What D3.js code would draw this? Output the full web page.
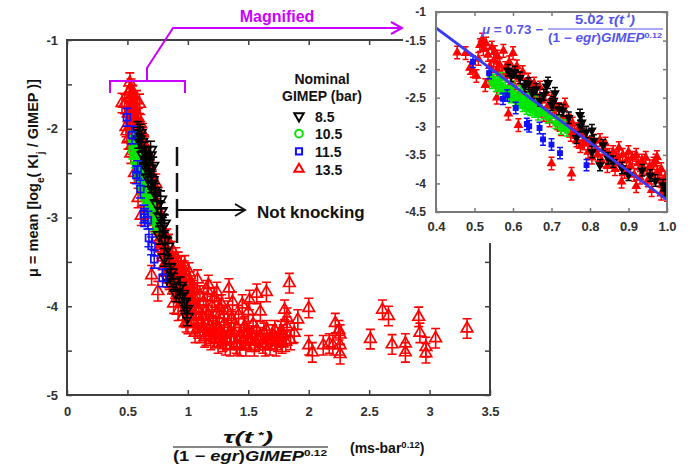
<!DOCTYPE html>
<html>
<head>
<meta charset="utf-8">
<script src="https://cdn.jsdelivr.net/npm/d3@7"></script>
<style>
  body { margin: 0; background: #fff; }
  svg { display: block; }
  text { font-family: "Liberation Sans", Arial, sans-serif; }
</style>
</head>
<body>
<svg id="chart" width="698" height="468"></svg>
<script>
// Mean knock intensity vs. normalised ignition-delay integral, by nominal GIMEP (bar)
// Each point: [tau / ((1-egr) GIMEP^0.12), mu]
const gimep85 = [
  [0.587,-2.02],[0.595,-2.12],[0.605,-2.05],[0.618,-2.15],[0.63,-2.30],[0.64,-2.25],[0.65,-2.42],
  [0.66,-2.35],[0.67,-2.55],[0.68,-2.45],[0.687,-2.30],[0.691,-2.24],[0.70,-2.62],[0.704,-2.58],
  [0.709,-2.42],[0.72,-2.70],[0.73,-2.72],[0.745,-2.85],[0.765,-3.20],[0.774,-2.80],[0.779,-2.93],
  [0.775,-3.00],[0.79,-3.10],[0.805,-3.07],[0.805,-3.45],[0.81,-3.25],[0.826,-3.68],[0.834,-3.33],
  [0.847,-3.56],[0.86,-3.62],[0.883,-3.73],[0.90,-3.85],[0.935,-3.77],[0.956,-3.86],[0.97,-3.95],
  [0.99,-4.03],[0.995,-4.12]
];
const gimep105 = [
  [0.54,-2.12],[0.545,-2.25],[0.55,-2.18],[0.555,-2.30],[0.56,-2.22],[0.565,-2.35],[0.57,-2.28],
  [0.57,-2.15],[0.575,-2.40],[0.58,-2.32],[0.585,-2.45],[0.59,-2.38],[0.595,-2.50],[0.60,-2.42],
  [0.60,-2.30],[0.605,-2.55],[0.61,-2.48],[0.615,-2.60],[0.62,-2.50],[0.62,-2.38],[0.625,-2.65],
  [0.63,-2.55],[0.635,-2.70],[0.64,-2.58],[0.64,-2.45],[0.645,-2.72],[0.65,-2.62],[0.655,-2.75],
  [0.66,-2.68],[0.66,-2.55],[0.665,-2.80],[0.67,-2.72],[0.68,-2.78],[0.69,-2.85],[0.70,-2.82],
  [0.71,-2.95],[0.72,-2.90],[0.725,-3.05],[0.735,-2.98],[0.74,-3.08]
];
const gimep115 = [
  [0.496,-1.87],[0.538,-2.07],[0.574,-2.52],[0.585,-2.46],[0.607,-2.68],[0.636,-2.96],
  [0.642,-3.00],[0.669,-3.03],[0.678,-3.23],[0.700,-3.32],[0.722,-3.47],[0.791,-3.68]
];
const gimep135 = [
  [0.455,-1.71],[0.477,-1.72],[0.488,-1.98],[0.496,-2.03],[0.505,-2.12],[0.51,-1.82],[0.514,-1.58],
  [0.52,-1.48],[0.523,-1.65],[0.53,-1.55],[0.535,-1.75],[0.528,-2.28],[0.538,-2.18],[0.54,-1.95],
  [0.545,-1.62],[0.55,-1.85],[0.553,-1.70],[0.558,-2.02],[0.56,-1.78],[0.565,-1.92],[0.558,-2.50],
  [0.57,-2.08],[0.575,-1.68],[0.58,-1.98],[0.585,-2.12],[0.588,-2.78],[0.59,-1.88],[0.595,-2.25],
  [0.60,-1.72],[0.60,-2.05],[0.605,-2.32],[0.61,-1.95],[0.614,-2.98],[0.615,-2.15],[0.62,-2.40],
  [0.625,-2.05],[0.63,-2.28],[0.635,-2.52],[0.64,-2.18],[0.645,-2.38],[0.65,-2.60],[0.655,-2.25],
  [0.66,-2.45],[0.665,-2.70],[0.67,-2.32],[0.675,-2.55],[0.68,-2.80],[0.685,-2.42],[0.69,-2.65],
  [0.695,-2.90],[0.70,-3.65],[0.70,-2.52],[0.705,-2.75],[0.71,-2.62],[0.715,-2.95],[0.72,-2.70],
  [0.725,-3.05],[0.73,-2.85],[0.735,-2.62],[0.74,-3.00],[0.745,-2.90],[0.75,-3.15],[0.752,-3.83],
  [0.755,-2.95],[0.76,-3.10],[0.765,-3.25],[0.77,-3.05],[0.775,-3.35],[0.78,-3.15],[0.785,-3.30],
  [0.79,-3.20],[0.795,-3.45],[0.80,-3.30],[0.805,-3.55],[0.81,-3.25],[0.815,-3.40],[0.82,-3.50],
  [0.826,-3.24],[0.83,-3.60],[0.835,-3.40],[0.84,-3.30],[0.845,-3.70],[0.85,-3.50],[0.855,-3.60],
  [0.86,-3.45],[0.865,-3.75],[0.87,-3.55],[0.875,-3.38],[0.878,-3.65],[0.882,-3.97],[0.885,-3.50],
  [0.89,-3.80],[0.895,-3.60],[0.90,-3.45],[0.905,-3.70],[0.91,-3.55],[0.915,-3.85],[0.92,-3.50],
  [0.92,-4.05],[0.925,-3.65],[0.93,-3.90],[0.935,-3.60],[0.94,-3.75],[0.945,-3.55],[0.95,-3.95],
  [0.955,-3.70],[0.96,-3.85],[0.96,-4.12],[0.965,-3.65],[0.97,-3.60],[0.974,-3.54],[0.975,-3.80],
  [0.98,-3.95],[0.985,-3.75],[0.985,-4.18],[0.99,-4.00],[0.995,-3.90],[0.999,-4.06],[1.00,-4.12],
  [1.00,-4.20],[1.01,-3.62],[1.02,-3.72],[1.02,-3.93],[1.03,-4.10],[1.03,-3.80],[1.04,-3.82],
  [1.05,-4.20],[1.05,-3.90],[1.06,-3.98],[1.06,-4.30],[1.07,-4.02],[1.08,-3.70],[1.08,-4.25],
  [1.09,-4.05],[1.10,-3.88],[1.10,-4.30],[1.11,-4.18],[1.12,-4.12],[1.13,-3.95],[1.13,-4.25],
  [1.14,-4.35],[1.15,-4.05],[1.15,-4.33],[1.16,-3.82],[1.17,-3.76],[1.17,-4.10],[1.18,-4.22],
  [1.19,-4.38],[1.20,-4.00],[1.20,-4.27],[1.21,-4.17],[1.22,-3.90],[1.22,-4.36],[1.23,-4.30],
  [1.24,-3.84],[1.24,-4.22],[1.25,-4.42],[1.26,-4.10],[1.26,-4.02],[1.27,-4.29],[1.28,-3.98],
  [1.28,-4.32],[1.29,-4.40],[1.30,-4.20],[1.30,-4.10],[1.31,-4.44],[1.32,-4.38],[1.33,-4.05],
  [1.33,-4.25],[1.34,-3.80],[1.35,-4.45],[1.36,-4.15],[1.36,-4.37],[1.37,-3.95],[1.38,-4.30],
  [1.39,-4.20],[1.40,-4.42],[1.41,-4.44],[1.42,-4.10],[1.43,-4.45],[1.44,-4.35],[1.45,-3.98],
  [1.46,-4.25],[1.46,-4.38],[1.47,-4.23],[1.48,-4.45],[1.49,-4.30],[1.50,-4.06],[1.50,-4.36],
  [1.51,-3.93],[1.52,-4.40],[1.53,-4.33],[1.54,-4.20],[1.55,-4.45],[1.56,-4.40],[1.57,-3.86],
  [1.57,-4.27],[1.58,-4.38],[1.60,-4.06],[1.60,-4.35],[1.62,-4.42],[1.63,-4.30],[1.64,-4.45],
  [1.65,-3.84],[1.65,-4.27],[1.66,-4.38],[1.68,-4.44],[1.69,-4.38],[1.70,-4.32],[1.72,-4.27],
  [1.73,-4.45],[1.74,-4.40],[1.76,-4.35],[1.77,-4.28],[1.78,-4.42],[1.79,-4.32],[1.80,-4.04],
  [1.81,-4.40],[1.82,-4.23],[1.82,-4.13],[1.84,-3.74],[1.85,-4.38],[1.88,-4.30],[1.91,-4.15],
  [2.00,-4.02],[2.00,-4.44],[2.03,-4.52],[2.12,-4.44],[2.17,-4.42],[2.20,-4.44],[2.22,-4.19],
  [2.25,-4.27],[2.26,-4.32],[2.26,-4.44],[2.26,-4.54],[2.51,-4.37],[2.61,-4.04],[2.66,-4.11],
  [2.69,-4.43],[2.80,-4.42],[2.80,-4.52],[2.91,-4.12],[2.92,-4.30],[2.97,-4.46],[2.97,-4.53],
  [3.05,-4.36],[3.31,-4.25]
];
// half-length of the error bars, per GIMEP level
const errHalf = [0.10, 0.09, 0.10, 0.11];
const gimepLabels = ["8.5", "10.5", "11.5", "13.5"];

// Correlation: mu = 0.73 - 5.02 * x
const fitIntercept = 0.73;
const fitSlope = -5.02;

const mainXTicks = [0, 0.5, 1, 1.5, 2, 2.5, 3, 3.5];
const mainYTicks = [-5, -4.5, -4, -3.5, -3, -2.5, -2, -1.5, -1];
const insetXTicks = [0.4, 0.5, 0.6, 0.7, 0.8, 0.9, 1.0];
const insetYTicks = [-4.5, -4, -3.5, -3, -2.5, -2, -1.5, -1];

const series = [
  { label: gimepLabels[3], pts: gimep135, err: errHalf[3], color: "#ff0000", shape: "up" },
  { label: gimepLabels[1], pts: gimep105, err: errHalf[1], color: "#00e600", shape: "circle" },
  { label: gimepLabels[0], pts: gimep85,  err: errHalf[0], color: "#000000", shape: "down" },
  { label: gimepLabels[2], pts: gimep115, err: errHalf[2], color: "#1010ff", shape: "square" }
];
const legendOrder = [2, 1, 3, 0];

const svg = d3.select("#chart");
const axisColor = "#404040";
const labelColor = "#303030";

function symbolPath(shape, size) {
  const type = shape === "circle" ? d3.symbolCircle
    : shape === "square" ? d3.symbolSquare : d3.symbolTriangle;
  return d3.symbol(type, size)();
}
function symbolTransform(shape, cx, cy) {
  return `translate(${cx},${cy})` + (shape === "down" ? " rotate(180)" : "");
}

function drawSeries(g, xs, ys, s, o) {
  const grp = g.append("g");
  const sz = o.size[s.shape];
  grp.selectAll("path.err").data(s.pts).join("path")
    .attr("class", "err")
    .attr("d", d => {
      const cx = xs(d[0]), t = ys(d[1] + s.err), b = ys(d[1] - s.err);
      return `M${cx},${t}V${b}M${cx - o.cap},${t}H${cx + o.cap}M${cx - o.cap},${b}H${cx + o.cap}`;
    })
    .attr("fill", "none").attr("stroke", s.color).attr("stroke-width", o.lw);
  grp.selectAll("path.mk").data(s.pts).join("path")
    .attr("class", "mk")
    .attr("d", symbolPath(s.shape, sz))
    .attr("transform", d => symbolTransform(s.shape, xs(d[0]), ys(d[1])))
    .attr("fill", o.filled ? s.color : "none")
    .attr("stroke", s.color).attr("stroke-width", o.mlw);
}

function styleAxis(g, color, fontSize) {
  g.select(".domain").remove();
  g.selectAll(".tick line").attr("stroke", color).attr("stroke-width", 1.5);
  g.selectAll(".tick text").attr("fill", labelColor)
    .attr("font-size", fontSize).attr("font-weight", "bold")
    .attr("font-family", "'Liberation Sans', Arial, sans-serif");
}

// ---------- main panel ----------
const mx = d3.scaleLinear([0, 3.5], [67, 490]);
const my = d3.scaleLinear([-5, -1], [395, 40]);

svg.append("defs").append("clipPath").attr("id", "mainClip")
  .append("rect").attr("x", 67).attr("y", 40).attr("width", 423).attr("height", 355);

const mainG = svg.append("g");
mainG.append("g").attr("transform", "translate(0,395)")
  .call(d3.axisBottom(mx).tickValues(mainXTicks).tickFormat(d => String(d))
    .tickSize(-5).tickSizeOuter(0).tickPadding(12))
  .call(g => styleAxis(g, axisColor, 13));
mainG.append("g").attr("transform", "translate(0,40)")
  .call(d3.axisTop(mx).tickValues(mainXTicks).tickFormat("").tickSize(-5).tickSizeOuter(0))
  .call(g => styleAxis(g, axisColor, 13));
mainG.append("g").attr("transform", "translate(67,0)")
  .call(d3.axisLeft(my).tickValues(mainYTicks)
    .tickFormat(d => Number.isInteger(d) ? String(d) : "")
    .tickSize(-5).tickSizeOuter(0).tickPadding(9))
  .call(g => styleAxis(g, axisColor, 13));
mainG.append("g").attr("transform", "translate(490,0)")
  .call(d3.axisRight(my).tickValues(mainYTicks).tickFormat("").tickSize(-5).tickSizeOuter(0))
  .call(g => styleAxis(g, axisColor, 13));
mainG.append("rect").attr("x", 67).attr("y", 40).attr("width", 423).attr("height", 355)
  .attr("fill", "none").attr("stroke", axisColor).attr("stroke-width", 2);

const mainPts = mainG.append("g").attr("clip-path", "url(#mainClip)");
series.forEach(s => drawSeries(mainPts, mx, my, s, {
  cap: 4.5, lw: 1.6, mlw: 1.7, filled: false,
  size: { up: 58, down: 58, circle: 52, square: 46 }
}));

// knock / no-knock boundary
svg.append("line").attr("x1", 177).attr("x2", 177).attr("y1", 147).attr("y2", 243)
  .attr("stroke", "#111").attr("stroke-width", 2.5).attr("stroke-dasharray", "19,7");
svg.append("path").attr("d", "M177,210H244M235,204L245,210L235,216")
  .attr("fill", "none").attr("stroke", "#111").attr("stroke-width", 2);
svg.append("text").attr("x", 257).attr("y", 218).attr("font-size", 17).attr("font-weight", "bold")
  .attr("fill", "#111").text("Not knocking");

// legend
const leg = svg.append("g");
leg.append("text").attr("x", 322).attr("y", 84).attr("text-anchor", "middle")
  .attr("font-size", 14).attr("font-weight", "bold").attr("fill", "#111").text("Nominal");
leg.append("text").attr("x", 322).attr("y", 101).attr("text-anchor", "middle")
  .attr("font-size", 14).attr("font-weight", "bold").attr("fill", "#111").text("GIMEP (bar)");
legendOrder.forEach((si, i) => {
  const s = series[si];
  const cy = 116 + i * 17.7;
  leg.append("path").attr("d", symbolPath(s.shape, s.shape === "circle" ? 46 : 38))
    .attr("transform", symbolTransform(s.shape, 299, cy))
    .attr("fill", "none").attr("stroke", s.color).attr("stroke-width", 2);
  leg.append("text").attr("x", 315).attr("y", cy + 5.5).attr("font-size", 14)
    .attr("font-weight", "bold").attr("fill", "#111").text(s.label);
});

// y-axis title
const yt = svg.append("text").attr("transform", "translate(38,178) rotate(-90)")
  .attr("text-anchor", "middle").attr("font-size", 14.5).attr("font-weight", "bold").attr("fill", "#111");
yt.append("tspan").text("\u03bc = mean [log");
yt.append("tspan").attr("baseline-shift", "sub").attr("font-size", 10).text("e");
yt.append("tspan").text("( KI");
yt.append("tspan").attr("baseline-shift", "sub").attr("font-size", 10).text("j");
yt.append("tspan").text(" / GIMEP )]");

// x-axis title (fraction)
const serif = "'DejaVu Serif', 'Liberation Serif', serif";
const num = svg.append("text").attr("x", 248).attr("y", 443).attr("text-anchor", "middle")
  .attr("font-family", serif).attr("font-size", 16).attr("font-weight", "bold")
  .attr("font-style", "italic").attr("fill", "#111")
  .attr("textLength", 50).attr("lengthAdjust", "spacingAndGlyphs");
num.append("tspan").text("\u03c4(t");
num.append("tspan").attr("baseline-shift", "super").attr("font-size", 9).text(" *");
num.append("tspan").text(")");
svg.append("line").attr("x1", 173).attr("x2", 328).attr("y1", 447).attr("y2", 447)
  .attr("stroke", "#111").attr("stroke-width", 1.2);
const den = svg.append("text").attr("x", 250).attr("y", 461).attr("text-anchor", "middle")
  .attr("font-family", serif).attr("font-size", 14).attr("font-weight", "bold").attr("fill", "#111")
  .attr("textLength", 154).attr("lengthAdjust", "spacingAndGlyphs");
den.append("tspan").text("(1 \u2212 ");
den.append("tspan").attr("font-style", "italic").text("egr");
den.append("tspan").text(")");
den.append("tspan").attr("font-style", "italic").text("GIMEP");
den.append("tspan").attr("baseline-shift", "super").attr("font-size", 9).text("0.12");
const unit = svg.append("text").attr("x", 350).attr("y", 453).attr("font-size", 14)
  .attr("font-weight", "bold").attr("fill", "#111");
unit.append("tspan").text("(ms-bar");
unit.append("tspan").attr("baseline-shift", "super").attr("font-size", 9.5).text("0.12");
unit.append("tspan").text(")");

// ---------- magnified inset ----------
const ix = d3.scaleLinear([0.4, 1.0], [436, 667]);
const iy = d3.scaleLinear([-4.5, -1], [212, 12]);

svg.append("rect").attr("x", 403).attr("y", 0).attr("width", 295).attr("height", 243).attr("fill", "#fff");
svg.select("defs").append("clipPath").attr("id", "insetClip")
  .append("rect").attr("x", 436).attr("y", 12).attr("width", 231).attr("height", 200);

const insetColor = "#7a7a7a";
const inG = svg.append("g");
inG.append("g").attr("transform", "translate(0,212)")
  .call(d3.axisBottom(ix).tickValues(insetXTicks).tickFormat(d => d.toFixed(1))
    .tickSize(-4).tickSizeOuter(0).tickPadding(10))
  .call(g => styleAxis(g, insetColor, 13));
inG.append("g").attr("transform", "translate(0,12)")
  .call(d3.axisTop(ix).tickValues(insetXTicks).tickFormat("").tickSize(-4).tickSizeOuter(0))
  .call(g => styleAxis(g, insetColor, 13));
inG.append("g").attr("transform", "translate(436,0)")
  .call(d3.axisLeft(iy).tickValues(insetYTicks).tickFormat(d => String(d))
    .tickSize(-4).tickSizeOuter(0).tickPadding(10))
  .call(g => styleAxis(g, insetColor, 12));
inG.append("g").attr("transform", "translate(667,0)")
  .call(d3.axisRight(iy).tickValues(insetYTicks).tickFormat("").tickSize(-4).tickSizeOuter(0))
  .call(g => styleAxis(g, insetColor, 12));

const inPts = inG.append("g").attr("clip-path", "url(#insetClip)");
series.forEach(s => drawSeries(inPts, ix, iy, s, {
  cap: 3, lw: 1.5, mlw: 1.2, filled: true,
  size: { up: 26, down: 26, circle: 22, square: 22 }
}));

// fitted correlation
const fitX = [0.4, 1.0];
inPts.append("path")
  .attr("d", d3.line().x(d => ix(d)).y(d => iy(fitIntercept + fitSlope * d))(fitX))
  .attr("stroke", "#3a3af5").attr("stroke-width", 2.8).attr("fill", "none");

inG.append("rect").attr("x", 436).attr("y", 12).attr("width", 231).attr("height", 200)
  .attr("fill", "none").attr("stroke", insetColor).attr("stroke-width", 2);

// correlation equation
const eqColor = "#5555ee";
const eq = inG.append("g").attr("fill", eqColor).attr("font-family", serif)
  .attr("font-weight", "bold");
const eqL = eq.append("text").attr("x", 482).attr("y", 34).attr("font-size", 12.5)
  .attr("textLength", 61).attr("lengthAdjust", "spacingAndGlyphs");
eqL.append("tspan").attr("font-style", "italic").text("\u03bc");
eqL.append("tspan").text(" = 0.73 \u2212");
const eqN = eq.append("text").attr("x", 605).attr("y", 24).attr("text-anchor", "middle").attr("font-size", 13)
  .attr("textLength", 60).attr("lengthAdjust", "spacingAndGlyphs");
eqN.append("tspan").text("5.02 ");
eqN.append("tspan").attr("font-style", "italic").text("\u03c4(t");
eqN.append("tspan").attr("baseline-shift", "super").attr("font-size", 8).text(" *");
eqN.append("tspan").attr("font-style", "italic").text(")");
eq.append("line").attr("x1", 548).attr("x2", 663).attr("y1", 29).attr("y2", 29)
  .attr("stroke", eqColor).attr("stroke-width", 1.1);
const eqD = eq.append("text").attr("x", 605).attr("y", 42).attr("text-anchor", "middle").attr("font-size", 12)
  .attr("textLength", 114).attr("lengthAdjust", "spacingAndGlyphs");
eqD.append("tspan").text("(1 \u2212 ");
eqD.append("tspan").attr("font-style", "italic").text("egr");
eqD.append("tspan").text(")");
eqD.append("tspan").attr("font-style", "italic").text("GIMEP");
eqD.append("tspan").attr("baseline-shift", "super").attr("font-size", 8).text("0.12");

// ---------- "Magnified" call-out ----------
const mag = "#cc00ff";
svg.append("path")
  .attr("d", "M110,93V81H185V93M147,81V68L173,28H401M391,22L402,28L391,34")
  .attr("fill", "none").attr("stroke", mag).attr("stroke-width", 2);
svg.append("text").attr("x", 277).attr("y", 22).attr("text-anchor", "middle")
  .attr("font-size", 16).attr("font-weight", "bold").attr("fill", mag).text("Magnified");
</script>
</body>
</html>
